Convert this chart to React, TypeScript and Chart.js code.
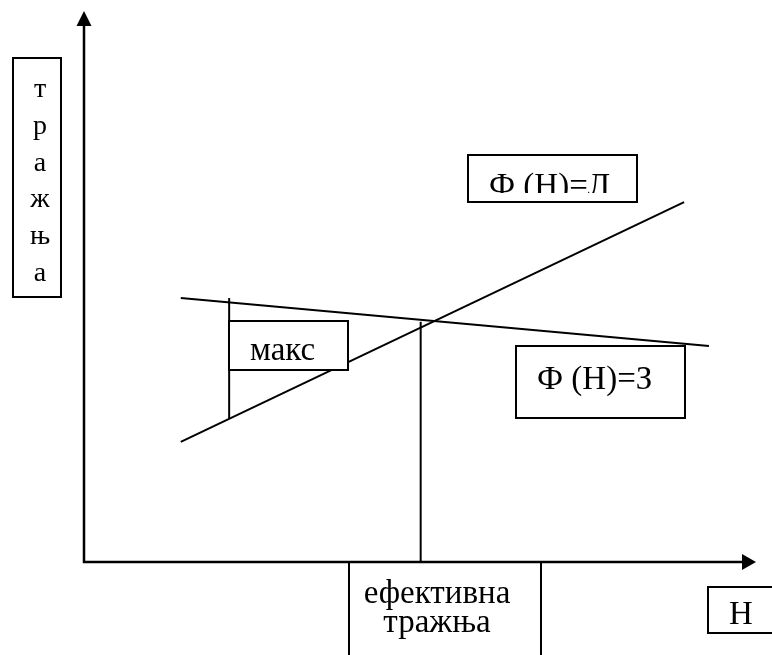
import React, { useEffect, useRef } from "react";
import { Chart, registerables } from "chart.js";

Chart.register(...registerables);

// ---- data (abstract units: Н on x, тражња on y) ----
const xRange = [0, 100];
const yRange = [0, 100];
const lineL = [
  { x: 14.4, y: 21.8 },
  { x: 89.3, y: 65.3 },
];
const lineZ = [
  { x: 14.4, y: 47.9 },
  { x: 93.0, y: 39.2 },
];
const maxLine = [
  { x: 21.6, y: 26.0 },
  { x: 21.6, y: 47.9 },
];
const effectiveLine = [
  { x: 50.1, y: 0 },
  { x: 50.1, y: 43.6 },
];

const yAxisLetters = ["т", "р", "а", "ж", "њ", "а"];
const labelL = "Ф (Н)=Л";
const labelZ = "Ф (Н)=З";
const labelMax = "макс";
const labelEffective = ["ефективна", "тражња"];
const labelX = "Н";

const FONT = '"Liberation Serif", "Times New Roman", serif';

const diagramPlugin = {
  id: "diagram",
  afterDraw(chart: any) {
    const ctx = chart.ctx as CanvasRenderingContext2D;
    const { left, right, top, bottom } = chart.chartArea;
    ctx.save();
    ctx.strokeStyle = "#000";
    ctx.fillStyle = "#000";
    ctx.lineCap = "butt";

    // axes
    ctx.lineWidth = 2.5;
    ctx.beginPath();
    ctx.moveTo(left, top + 14);
    ctx.lineTo(left, bottom);
    ctx.lineTo(right - 14, bottom);
    ctx.stroke();
    // arrow heads
    ctx.beginPath();
    ctx.moveTo(left, top);
    ctx.lineTo(left - 7.5, top + 15);
    ctx.lineTo(left + 7.5, top + 15);
    ctx.closePath();
    ctx.fill();
    ctx.beginPath();
    ctx.moveTo(right, bottom);
    ctx.lineTo(right - 14, bottom - 8);
    ctx.lineTo(right - 14, bottom + 8);
    ctx.closePath();
    ctx.fill();

    ctx.lineWidth = 2;
    const box = (x: number, y: number, w: number, h: number) => {
      ctx.strokeRect(x, y, w, h);
    };

    // vertical label box
    box(13, 58, 48, 239);
    ctx.font = `28px ${FONT}`;
    ctx.textAlign = "center";
    ctx.textBaseline = "alphabetic";
    yAxisLetters.forEach((ch, i) => {
      ctx.fillText(ch, 40, 97 + i * 36.8);
    });

    ctx.textAlign = "left";
    ctx.font = `33px ${FONT}`;

    // Ф (Н)=Л box, text clipped at bottom
    box(468, 155, 169, 47);
    ctx.save();
    ctx.beginPath();
    ctx.rect(469, 156, 167, 37);
    ctx.clip();
    ctx.fillText(labelL, 489, 196);
    ctx.restore();

    // макс box
    ctx.fillStyle = "#fff";
    ctx.fillRect(230, 322, 117, 47);
    ctx.fillStyle = "#000";
    box(229, 321, 119, 49);
    ctx.fillText(labelMax, 250, 360);

    // Ф (Н)=З box
    ctx.fillStyle = "#fff";
    ctx.fillRect(517, 347, 167, 70);
    ctx.fillStyle = "#000";
    box(516, 346, 169, 72);
    ctx.fillText(labelZ, 537, 389);

    // ефективна тражња box (sides only)
    ctx.beginPath();
    ctx.moveTo(349, bottom);
    ctx.lineTo(349, 656);
    ctx.moveTo(541, bottom);
    ctx.lineTo(541, 656);
    ctx.stroke();
    ctx.textAlign = "center";
    ctx.fillText(labelEffective[0], 437, 603);
    ctx.fillText(labelEffective[1], 437, 632);

    // Н box
    ctx.beginPath();
    ctx.moveTo(775, 587);
    ctx.lineTo(708, 587);
    ctx.lineTo(708, 633);
    ctx.lineTo(775, 633);
    ctx.stroke();
    ctx.fillText(labelX, 741, 624);

    ctx.restore();
  },
};

export default function App() {
  const ref = useRef<HTMLCanvasElement | null>(null);
  useEffect(() => {
    if (!ref.current) return;
    const mk = (data: any[]) => ({
      data,
      showLine: true,
      borderColor: "#000",
      borderWidth: 2,
      pointRadius: 0,
      fill: false,
    });
    const chart = new Chart(ref.current, {
      type: "scatter",
      data: {
        datasets: [mk(lineL), mk(lineZ), mk(maxLine), mk(effectiveLine)],
      },
      options: {
        animation: false,
        responsive: false,
        devicePixelRatio: 1,
        layout: { padding: { left: 84, top: 11, right: 16, bottom: 93 } },
        plugins: { legend: { display: false }, tooltip: { enabled: false } },
        scales: {
          x: { type: "linear", display: false, min: xRange[0], max: xRange[1] },
          y: { type: "linear", display: false, min: yRange[0], max: yRange[1] },
        },
      },
      plugins: [diagramPlugin],
    });
    return () => chart.destroy();
  }, []);
  return (
    <div style={{ position: "fixed", left: 0, top: 0, width: 772, height: 655, background: "#fff" }}>
      <canvas ref={ref} width={772} height={655} style={{ width: 772, height: 655 }} />
    </div>
  );
}
